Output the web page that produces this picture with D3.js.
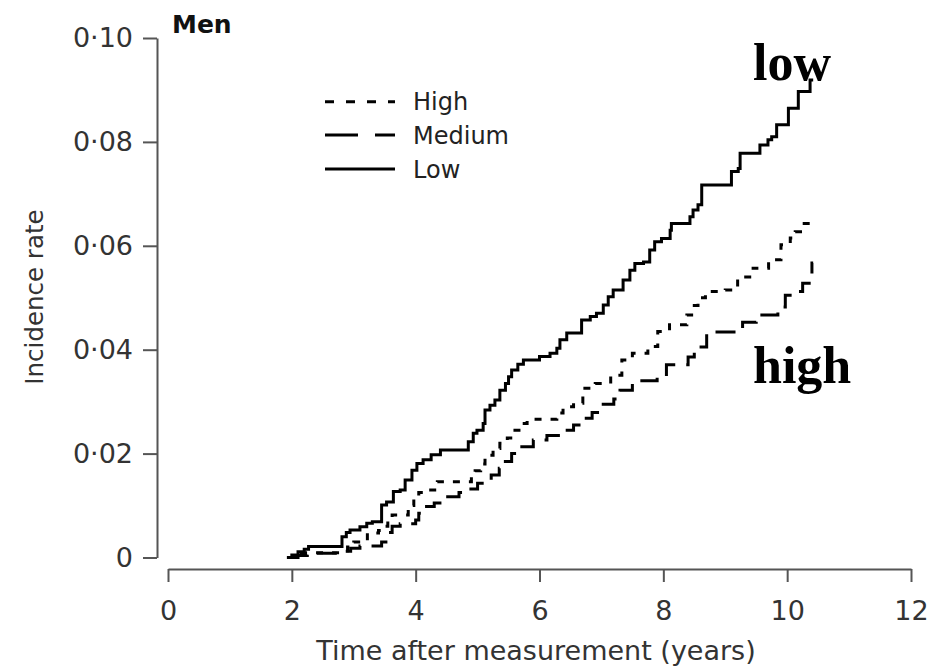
<!DOCTYPE html>
<html>
<head>
<meta charset="utf-8">
<script src="https://cdn.jsdelivr.net/npm/d3@7"></script>
<style>
  html, body { margin: 0; padding: 0; background: #fff; }
  svg { display: block; }
</style>
</head>
<body>
<svg id="chart" width="929" height="668"></svg>
<script>
// ---------- data ----------
const xTicks = [0, 2, 4, 6, 8, 10, 12];
const yTicks = [0, 0.02, 0.04, 0.06, 0.08, 0.10];

const seriesNames = ["High", "Medium", "Low"];

// Low (solid)
const lowT = [1.92, 2.0, 2.1, 2.2, 2.27, 2.81, 2.88, 2.94, 3.10, 3.21, 3.30, 3.45, 3.53, 3.64, 3.75, 3.83, 3.94, 4.02, 4.12, 4.25, 4.40,
  4.85, 4.93, 4.99, 5.09, 5.12, 5.20, 5.28, 5.36, 5.45, 5.50, 5.55, 5.65, 5.74, 6.00, 6.17, 6.28, 6.33, 6.44, 6.68, 6.82, 6.92,
  7.03, 7.11, 7.19, 7.35, 7.46, 7.54, 7.68, 7.78, 7.86, 7.97, 8.11, 8.13, 8.43, 8.48, 8.56, 8.62, 9.10, 9.21, 9.24, 9.56, 9.69,
  9.75, 9.83, 10.02, 10.18, 10.37, 10.42];
const lowV = [0, 0.0005, 0.0011, 0.0016, 0.0021, 0.0040, 0.0048, 0.0053, 0.0059, 0.0066, 0.0069, 0.0101, 0.0107, 0.0127, 0.0130, 0.0149, 0.0168, 0.0181, 0.0188, 0.0198, 0.0207,
  0.0223, 0.0239, 0.0245, 0.0258, 0.0284, 0.0293, 0.0303, 0.0322, 0.0335, 0.0348, 0.0361, 0.0372, 0.0380, 0.0387, 0.0393, 0.0403, 0.0419, 0.0432, 0.0457, 0.0464, 0.0470,
  0.0486, 0.0502, 0.0515, 0.0534, 0.0553, 0.0566, 0.0569, 0.0592, 0.0608, 0.0614, 0.0630, 0.0643, 0.0656, 0.0669, 0.0679, 0.0717, 0.0743, 0.0749, 0.0778, 0.0794, 0.0804,
  0.0810, 0.0833, 0.0865, 0.0897, 0.0919, 0.0919];

// High (dotted)
const highT = [1.95, 2.05, 2.15, 2.9, 3.0, 3.22, 3.40, 3.47, 3.55, 3.62, 3.88, 3.97, 4.05, 4.15, 4.35, 4.90, 4.96, 5.05, 5.12, 5.25, 5.36,
  5.48, 5.57, 5.70, 5.80, 6.28, 6.38, 6.55, 6.70, 6.90, 7.15, 7.33, 7.50, 7.75, 7.91, 8.10, 8.38, 8.50, 8.56, 8.68, 9.0, 9.20, 9.45,
  9.70, 9.90, 10.05, 10.13, 10.25, 10.42];
const highV = [0, 0.0005, 0.0009, 0.0020, 0.0030, 0.0047, 0.0052, 0.0060, 0.0075, 0.0082, 0.0100, 0.0118, 0.0125, 0.0130, 0.0146, 0.0158, 0.0167, 0.0180, 0.0197, 0.0210, 0.0220,
  0.0230, 0.0245, 0.0258, 0.0266, 0.0278, 0.0290, 0.0297, 0.0326, 0.0335, 0.0351, 0.0380, 0.0393, 0.0406, 0.0435, 0.0448, 0.0467, 0.0485, 0.0500, 0.0512, 0.0515, 0.0540, 0.0557,
  0.0573, 0.0602, 0.0615, 0.0627, 0.0643, 0.0643];

// Medium (dashed)
const medT = [1.97, 2.1, 2.25, 2.85, 2.95, 3.1, 3.45, 3.55, 3.62, 3.75, 4.0, 4.05, 4.12, 4.30, 4.42, 4.70, 4.85, 5.0, 5.22, 5.35, 5.42,
  5.55, 5.65, 5.90, 6.12, 6.33, 6.55, 6.70, 6.85, 7.0, 7.20, 7.30, 7.50, 7.90, 8.05, 8.40, 8.50, 8.70, 9.28, 9.50, 9.85, 9.97, 10.1,
  10.25, 10.40, 10.42];
const medV = [0, 0.0004, 0.0008, 0.0012, 0.0018, 0.0022, 0.0030, 0.0048, 0.0060, 0.0065, 0.0072, 0.0085, 0.0098, 0.0105, 0.0117, 0.0125, 0.0132, 0.0143, 0.0159, 0.0172, 0.0185,
  0.0200, 0.0213, 0.0226, 0.0235, 0.0245, 0.0255, 0.0268, 0.0279, 0.0295, 0.0305, 0.0322, 0.0340, 0.0348, 0.0371, 0.0386, 0.0405, 0.0434, 0.0453, 0.0467, 0.0482, 0.0505, 0.0512,
  0.0528, 0.0567, 0.0567];

// ---------- drawing ----------
const svg = d3.select("#chart");
const FONT = "'DejaVu Sans', sans-serif";

const x = d3.scaleLinear().domain([0, 12]).range([168, 911]);
const y = d3.scaleLinear().domain([0, 0.10]).range([557.5, 38]);

const fmtY = v => v === 0 ? "0" : d3.format(".2f")(v).replace(".", "\u00B7");

// x axis
const gx = svg.append("g").attr("transform", "translate(0,569)")
  .call(d3.axisBottom(x).tickValues(xTicks).tickSize(13).tickSizeOuter(0).tickPadding(19).tickFormat(d3.format("d")));
// y axis
const gy = svg.append("g").attr("transform", "translate(157,0)")
  .call(d3.axisLeft(y).tickValues(yTicks).tickSize(14).tickSizeOuter(0).tickPadding(10).tickFormat(fmtY));

[gx, gy].forEach(g => {
  g.select(".domain").attr("stroke", "#555").attr("stroke-width", 2);
  g.selectAll(".tick line").attr("stroke", "#555").attr("stroke-width", 2);
  g.selectAll(".tick text").attr("fill", "#333").style("font-family", FONT).style("font-size", "27px");
});

// axis titles
svg.append("text").attr("x", 536).attr("y", 660).attr("text-anchor", "middle")
  .style("font-family", FONT).style("font-size", "27px").attr("fill", "#333")
  .text("Time after measurement (years)");
svg.append("text").attr("transform", "translate(43,297) rotate(-90)").attr("text-anchor", "middle")
  .style("font-family", FONT).style("font-size", "24.5px").attr("fill", "#333")
  .text("Incidence rate");

svg.append("text").attr("x", 172).attr("y", 33)
  .style("font-family", FONT).style("font-size", "25px").style("font-weight", "bold").attr("fill", "#111")
  .text("Men");

// curves
const line = d3.line().x(d => x(d[0])).y(d => y(d[1])).curve(d3.curveStepAfter);
const series = [
  { name: "High", T: highT, V: highV, dash: "7,9" },
  { name: "Medium", T: medT, V: medV, dash: "20,11" },
  { name: "Low", T: lowT, V: lowV, dash: null }
];
series.forEach(s => {
  const pts = s.T.map((t, i) => [t, s.V[i]]);
  svg.append("path").datum(pts)
    .attr("d", line)
    .attr("fill", "none")
    .attr("stroke", "#000")
    .attr("stroke-width", 3)
    .attr("stroke-dasharray", s.dash);
});

// legend
const legendDash = { High: "9,12", Medium: "33,17", Low: null };
const legendY = [101.7, 135, 169];
seriesNames.forEach((n, i) => {
  svg.append("line").attr("x1", 325).attr("x2", 395).attr("y1", legendY[i]).attr("y2", legendY[i])
    .attr("stroke", "#000").attr("stroke-width", 3).attr("stroke-dasharray", legendDash[n]);
  svg.append("text").attr("x", 413).attr("y", legendY[i] + 8.5)
    .style("font-family", FONT).style("font-size", "24px").attr("fill", "#222")
    .text(n);
});

// annotations
svg.append("text").attr("x", 753).attr("y", 80)
  .style("font-family", "'Liberation Serif', 'Times New Roman', serif").style("font-size", "52px").style("font-weight", "bold")
  .attr("fill", "#000").text("low");
svg.append("text").attr("x", 753).attr("y", 383)
  .style("font-family", "'Liberation Serif', 'Times New Roman', serif").style("font-size", "52px").style("font-weight", "bold")
  .attr("fill", "#000").text("high");
</script>
</body>
</html>
